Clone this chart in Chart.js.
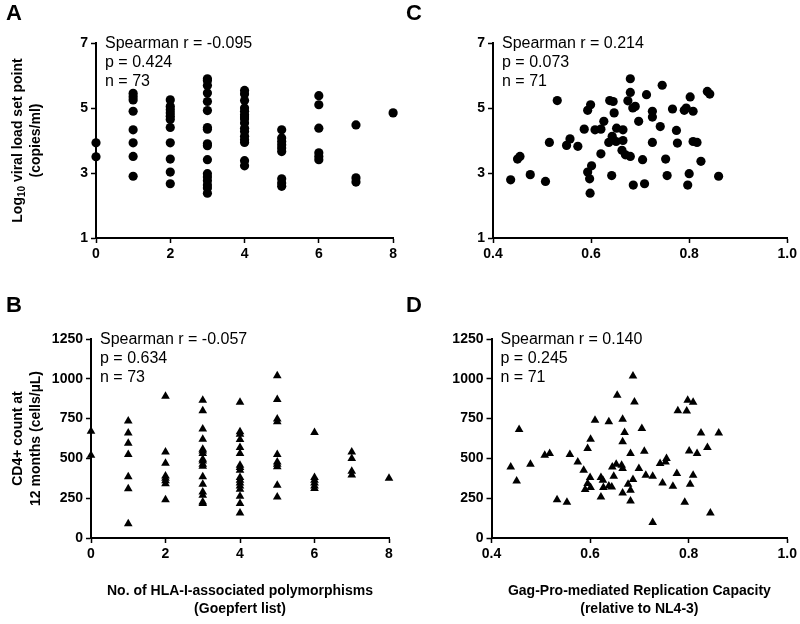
<!DOCTYPE html>
<html>
<head>
<meta charset="utf-8">
<script src="https://cdn.jsdelivr.net/npm/chart.js@4.4.1/dist/chart.umd.min.js"></script>
<style>
  body { margin: 0; background: #fff; }
  #wrap { position: relative; width: 800px; height: 624px; }
  canvas { position: absolute; }
</style>
</head>
<body>
<div id="wrap">
  <canvas id="chartA" width="400" height="290" style="left:0;top:0"></canvas>
  <canvas id="chartC" width="400" height="290" style="left:400px;top:0"></canvas>
  <canvas id="chartB" width="400" height="334" style="left:0;top:290px"></canvas>
  <canvas id="chartD" width="400" height="334" style="left:400px;top:290px"></canvas>
</div>
<script>
// panel A: log10 viral load by number of polymorphisms (index = count)
const viralLoadByPoly = [
  [3.93, 3.5],
  [5.45, 5.35, 5.25, 4.9, 4.33, 3.93, 3.51, 2.9],
  [5.25, 5.05, 4.95, 4.85, 4.75, 4.65, 4.4, 3.93, 3.43, 3.03, 2.67],
  [5.9, 5.85, 5.69, 5.46, 5.2, 4.92, 4.4, 4.35, 3.9, 3.84, 3.41, 2.98, 2.88, 2.76, 2.63, 2.54, 2.38],
  [5.54, 5.43, 5.23, 5.0, 4.9, 4.79, 4.72, 4.66, 4.54, 4.38, 4.28, 4.13, 4.02, 3.94, 3.38, 3.22],
  [4.33, 4.08, 3.97, 3.87, 3.77, 3.66, 2.82, 2.69, 2.59],
  [5.38, 5.1, 4.38, 3.62, 3.51, 3.41],
  [4.48, 2.85, 2.72],
  [4.85]
];

// panel B: CD4 count by number of polymorphisms (index = count)
const cd4ByPoly = [
  [670, 520],
  [735, 660, 595, 525, 385, 310, 90],
  [890, 540, 470, 390, 375, 360, 340, 240],
  [866, 799, 684, 621, 558, 547, 531, 495, 484, 463, 451, 384, 338, 289, 268, 226, 216],
  [852, 667, 652, 619, 569, 531, 457, 443, 426, 380, 363, 346, 327, 306, 262, 216, 157],
  [1019, 870, 747, 730, 525, 478, 464, 447, 331, 258],
  [663, 380, 363, 346, 327, 311],
  [540, 500, 420, 395],
  [375]
];

// panel C: replication capacity vs viral load
const rcC = [0.436, 0.450, 0.455, 0.476, 0.507, 0.515, 0.531, 0.550, 0.557, 0.573,
  0.586, 0.593, 0.599, 0.593, 0.601, 0.597, 0.598, 0.608, 0.620, 0.626,
  0.620, 0.638, 0.645, 0.647, 0.636, 0.643, 0.651, 0.652, 0.642, 0.665,
  0.665, 0.663, 0.670, 0.680, 0.675, 0.680, 0.680, 0.685, 0.690, 0.686,
  0.697, 0.705, 0.709, 0.713, 0.725, 0.725, 0.725, 0.741, 0.745, 0.752,
  0.755, 0.766, 0.774, 0.776, 0.790, 0.794, 0.802, 0.808, 0.808, 0.816,
  0.800, 0.797, 0.824, 0.837, 0.842, 0.860];
const vlC = [2.79, 3.43, 3.51, 2.95, 2.74, 3.94, 5.23, 3.85, 4.05, 3.82,
  4.35, 4.93, 5.10, 3.03, 3.22, 2.82, 2.38, 4.33, 4.35, 4.59,
  3.59, 5.23, 5.20, 4.85, 3.94, 4.13, 3.97, 4.38, 2.92, 4.33,
  4.00, 3.70, 3.56, 3.51, 5.22, 5.48, 5.90, 5.00, 5.05, 2.63,
  4.59, 3.41, 2.67, 5.41, 4.90, 4.72, 3.94, 4.43, 5.70, 3.43,
  2.92, 4.97, 4.31, 3.92, 4.93, 5.00, 5.34, 4.90, 3.97, 3.94,
  2.98, 2.63, 3.36, 5.51, 5.43, 2.90];

// panel D: replication capacity vs CD4 count
const rcD = [0.439, 0.451, 0.456, 0.479, 0.508, 0.518, 0.533, 0.553, 0.559, 0.575,
  0.587, 0.595, 0.601, 0.610, 0.600, 0.595, 0.590, 0.601, 0.622, 0.626,
  0.622, 0.627, 0.638, 0.638, 0.645, 0.648, 0.653, 0.644, 0.655, 0.666,
  0.670, 0.666, 0.664, 0.666, 0.666, 0.677, 0.682, 0.687, 0.690, 0.687,
  0.682, 0.682, 0.699, 0.705, 0.710, 0.713, 0.727, 0.747, 0.742, 0.755,
  0.753, 0.768, 0.776, 0.778, 0.792, 0.796, 0.798, 0.809, 0.801, 0.803,
  0.809, 0.817, 0.825, 0.838, 0.844, 0.861, 0.727];
const cd4D = [446, 358, 682, 463, 520, 531, 241, 225, 525, 478,
  426, 562, 621, 740, 380, 342, 304, 317, 380, 363,
  258, 317, 327, 730, 446, 388, 463, 321, 897, 746,
  663, 604, 457, 436, 283, 338, 531, 1017, 855, 367,
  300, 233, 436, 688, 545, 394, 388, 346, 468, 499,
  478, 325, 405, 799, 225, 797, 866, 852, 547, 338,
  394, 531, 660, 569, 157, 660, 98];

const FONT = '"Liberation Sans", Arial, Helvetica, sans-serif';

// draws panel letter, statistics box and axis titles as canvas text
const panelText = {
  id: 'panelText',
  afterDraw(chart, args, o) {
    const ctx = chart.ctx;
    const ca = chart.chartArea;
    ctx.save();
    ctx.fillStyle = '#000';
    ctx.textAlign = 'left';
    ctx.textBaseline = 'alphabetic';
    ctx.font = 'bold 22px ' + FONT;
    ctx.fillText(o.letter, 6, o.letterY);

    ctx.font = '16px ' + FONT;
    ctx.textBaseline = 'middle';
    o.stats.forEach((s, i) => ctx.fillText(s, ca.left + 9, ca.top + 0.5 + i * 19));

    ctx.font = 'bold 14px ' + FONT;
    if (o.yTitle) {
      const cy = (ca.top + ca.bottom) / 2;
      o.yTitle.forEach((line, i) => {
        ctx.save();
        ctx.translate(o.yTitleX + i * 18, cy);
        ctx.rotate(-Math.PI / 2);
        ctx.textBaseline = 'middle';
        // line may be [main, sub, rest] for a subscript
        const parts = Array.isArray(line) ? line : [line];
        let total = 0;
        const widths = parts.map((p, k) => {
          ctx.font = (k === 1 ? 'bold 10px ' : 'bold 14px ') + FONT;
          const w = ctx.measureText(p).width;
          total += w;
          return w;
        });
        let x = -total / 2;
        parts.forEach((p, k) => {
          ctx.font = (k === 1 ? 'bold 10px ' : 'bold 14px ') + FONT;
          ctx.fillText(p, x, k === 1 ? 4 : 0);
          x += widths[k];
        });
        ctx.restore();
      });
    }
    if (o.xTitle) {
      ctx.textAlign = 'center';
      ctx.font = 'bold 14px ' + FONT;
      const cx = (ca.left + ca.right) / 2;
      o.xTitle.forEach((line, i) => ctx.fillText(line, cx, o.xTitleY + i * 18));
    }
    ctx.restore();
  }
};

function axis(min, max, step, size, dir, fmt) {
  const cfg = {
    type: 'linear',
    min: min, max: max,
    border: { display: true, color: '#000', width: 2 },
    grid: { display: true, drawOnChartArea: false, drawTicks: true, tickLength: 5, tickColor: '#000', tickWidth: 1.5 },
    ticks: { stepSize: step, color: '#000', padding: 3, font: { family: FONT, size: 14, weight: 'bold' },
      callback: fmt || (v => String(v)) },
    title: { display: false }
  };
  cfg.afterFit = dir === 'y' ? (s) => { s.width = size; } : (s) => { s.height = size; };
  return cfg;
}

function makeChart(id, points, style, radius, xAx, yAx, pad, text) {
  return new Chart(id, {
    type: 'scatter',
    data: {
      datasets: [{
        data: points,
        pointStyle: style,
        pointRadius: radius,
        pointHoverRadius: radius,
        backgroundColor: '#000',
        borderColor: '#000',
        borderWidth: 0,
        clip: false
      }]
    },
    options: {
      responsive: false,
      animation: false,
      layout: { autoPadding: false, padding: pad },
      plugins: { legend: { display: false }, tooltip: { enabled: false }, panelText: text },
      scales: { x: xAx, y: yAx }
    },
    plugins: [panelText]
  });
}

function byPoly(groups) {
  const pts = [];
  groups.forEach((vals, n) => vals.forEach(v => pts.push({ x: n, y: v })));
  return pts;
}
function pairs(xs, ys) {
  return xs.map((x, i) => ({ x: x, y: ys[i] }));
}
const one = v => v.toFixed(1);

makeChart('chartA', byPoly(viralLoadByPoly), 'circle', 4.6,
  axis(0, 8, 2, 52, 'x'), axis(1, 7, 2, 96, 'y'),
  { left: 0, top: 43, right: 6, bottom: 0 },
  { letter: 'A', letterY: 20, stats: ['Spearman r = -0.095', 'p = 0.424', 'n = 73'],
    yTitleX: 18, yTitle: [['Log', '10', ' viral load set point'], '(copies/ml)'] });

makeChart('chartC', pairs(rcC, vlC), 'circle', 4.6,
  axis(0.4, 1.0, 0.2, 52, 'x', one), axis(1, 7, 2, 93, 'y'),
  { left: 0, top: 43, right: 10, bottom: 0 },
  { letter: 'C', letterY: 20, stats: ['Spearman r = 0.214', 'p = 0.073', 'n = 71'] });

makeChart('chartB', byPoly(cd4ByPoly), 'triangle', 5,
  axis(0, 8, 2, 86, 'x'), axis(0, 1250, 250, 91, 'y'),
  { left: 0, top: 49, right: 11, bottom: 0 },
  { letter: 'B', letterY: 22, stats: ['Spearman r = -0.057', 'p = 0.634', 'n = 73'],
    yTitleX: 18, yTitle: ['CD4+ count at', '12 months (cells/µL)'],
    xTitleY: 301, xTitle: ['No. of HLA-I-associated polymorphisms', '(Goepfert list)'] });

makeChart('chartD', pairs(rcD, cd4D), 'triangle', 5,
  axis(0.4, 1.0, 0.2, 86, 'x', one), axis(0, 1250, 250, 91.5, 'y'),
  { left: 0, top: 49, right: 10, bottom: 0 },
  { letter: 'D', letterY: 22, stats: ['Spearman r = 0.140', 'p = 0.245', 'n = 71'],
    xTitleY: 301, xTitle: ['Gag-Pro-mediated Replication Capacity', '(relative to NL4-3)'] });
</script>
</body>
</html>
